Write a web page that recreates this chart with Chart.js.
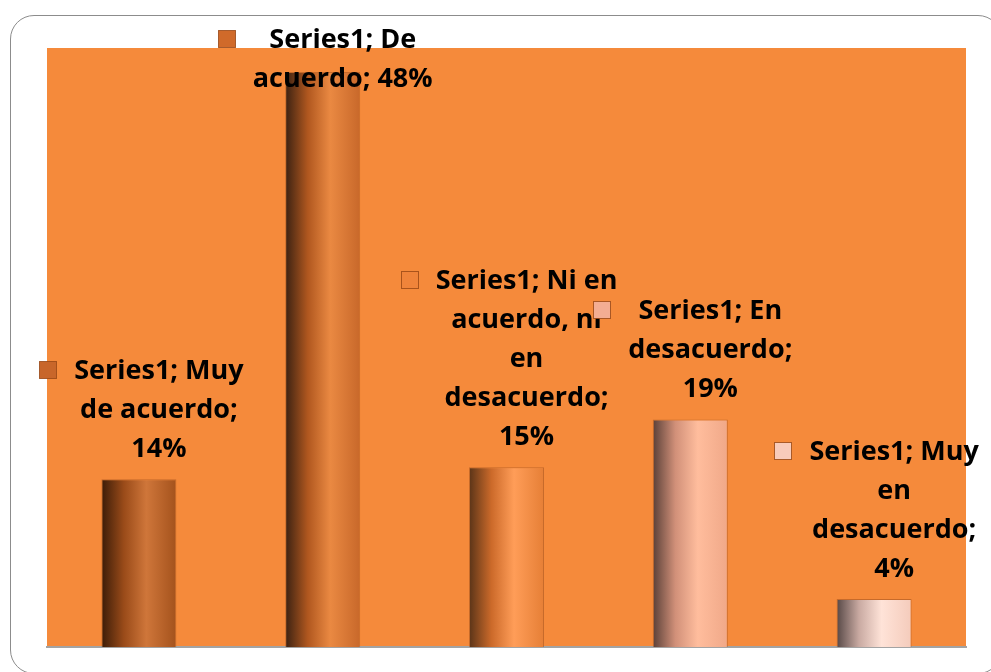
<!DOCTYPE html>
<html>
<head>
<meta charset="utf-8">
<script src="https://cdn.jsdelivr.net/npm/chart.js@4.4.0/dist/chart.umd.min.js"></script>
<style>
  html, body { margin: 0; padding: 0; background: #fff; overflow: hidden; }
  #wrap { position: relative; width: 991px; height: 672px; overflow: hidden; }
  #frame { position: absolute; left: 10px; top: 15px; width: 992px; height: 659px;
           border: 1px solid #8c8c8c; border-radius: 24px; box-sizing: border-box; }
  canvas { position: absolute; left: 0; top: 0; }
</style>
</head>
<body>
<div id="wrap">
  <div id="frame"></div>
  <canvas id="chart" width="991" height="672"></canvas>
</div>
<script>
// ── data ──
const seriesName = 'Series1';
const categories = ['Muy de acuerdo', 'De acuerdo', 'Ni en acuerdo, ni en desacuerdo', 'En desacuerdo', 'Muy en desacuerdo'];
const values = [14, 48, 15, 19, 4];
const yMax = 50;

// ── styling ──
const plotFill = '#f58a3b';
const barPct = 0.408;
// cylinder shading per bar: left edge, shoulder, highlight, right edge
const barShades = [
  ['#3b1c08', '#9a4b19', '#cf763a', '#a4521c'],
  ['#3a2112', '#b0571f', '#ea8942', '#c8682a'],
  ['#5a3418', '#cc6a2a', '#ff9d58', '#e67f36'],
  ['#5a4038', '#d19079', '#ffbd9d', '#f0a888'],
  ['#574846', '#c9aaa2', '#ffe3d8', '#f4cbbb'],
];
const keyColors = ['#c8662a', '#d06a2a', '#f0843a', '#f3ad92', '#f8cbbb'];
const labelFont = 'bold 27px "Open Sans"';
const lineH = 39;

function wrapText(c, text, maxW) {
  const words = text.split(' ');
  const lines = [];
  let cur = '';
  words.forEach((w) => {
    const test = cur ? cur + ' ' + w : w;
    if (cur && c.measureText(test).width > maxW) { lines.push(cur); cur = w; }
    else cur = test;
  });
  if (cur) lines.push(cur);
  return lines;
}

const plotBg = {
  id: 'plotBg',
  beforeDraw(chart) {
    const { ctx, chartArea: a } = chart;
    ctx.save();
    ctx.fillStyle = plotFill;
    ctx.fillRect(a.left, a.top, a.right - a.left, a.bottom - a.top);
    ctx.restore();
  },
};

const barLabels = {
  id: 'barLabels',
  afterDatasetsDraw(chart) {
    const c = chart.ctx;
    const meta = chart.getDatasetMeta(0);
    c.save();
    c.font = labelFont;
    c.textAlign = 'center';
    c.textBaseline = 'middle';
    meta.data.forEach((bar, i) => {
      const text = `${seriesName}; ${categories[i]}; ${values[i]}%`;
      const lines = wrapText(c, text, 184);
      const w = Math.max(...lines.map((l) => c.measureText(l).width));
      const tx = bar.x + 20;
      const firstY = Math.max(bar.y - 30 - (lines.length - 1) * lineH, 40);
      c.fillStyle = '#000';
      lines.forEach((l, k) => c.fillText(l, tx, firstY + k * lineH));
      // legend key
      const kx = Math.round(tx - w / 2 - 35) + 0.5;
      const ky = Math.round(firstY - 10) + 0.5;
      c.fillStyle = keyColors[i];
      c.fillRect(kx, ky, 17, 17);
      c.strokeStyle = 'rgba(150,70,20,0.8)';
      c.lineWidth = 1;
      c.strokeRect(kx, ky, 17, 17);
    });
    c.restore();
  },
};

new Chart(document.getElementById('chart'), {
  type: 'bar',
  data: {
    labels: categories,
    datasets: [{
      label: seriesName,
      data: values,
      backgroundColor: (ctx) => {
        const chart = ctx.chart;
        const xs = chart.scales.x;
        if (!chart.chartArea || ctx.type !== 'data' || !xs) return keyColors[ctx.dataIndex || 0];
        const cx = xs.getPixelForValue(ctx.dataIndex);
        const w = (xs.width / categories.length) * barPct;
        const s = barShades[ctx.dataIndex];
        const g = chart.ctx.createLinearGradient(cx - w / 2, 0, cx + w / 2, 0);
        g.addColorStop(0, s[0]);
        g.addColorStop(0.3, s[1]);
        g.addColorStop(0.6, s[2]);
        g.addColorStop(1, s[3]);
        return g;
      },
      borderColor: 'rgba(160,80,30,0.55)',
      borderWidth: 1,
      barPercentage: barPct,
      categoryPercentage: 1,
    }],
  },
  options: {
    responsive: false,
    animation: false,
    layout: { padding: { left: 47, right: 25, top: 48, bottom: 25 } },
    plugins: { legend: { display: false }, tooltip: { enabled: false } },
    scales: {
      x: {
        ticks: { display: false },
        grid: { display: false, drawTicks: false },
        border: { display: true, color: '#a3a3a3', width: 2 },
      },
      y: { display: false, min: 0, max: yMax },
    },
  },
  plugins: [plotBg, barLabels],
});
</script>
</body>
</html>
